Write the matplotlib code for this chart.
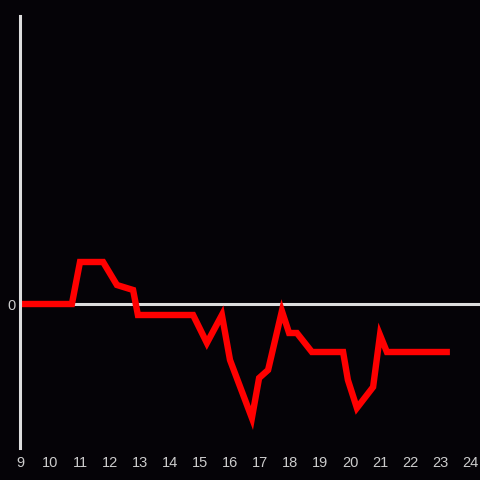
import matplotlib

matplotlib.use("Agg")
import matplotlib.pyplot as plt

BG = "#050307"
AXIS = "#dddddd"
LABEL = "#cccccc"
RED = "#ff0000"

# hours of the day and the value at each point
hours = [9.0, 10.73, 11.0, 11.77, 12.23, 12.77, 12.93, 14.77, 15.23, 15.73, 16.0,
         16.73, 16.97, 17.27, 17.73, 17.97, 18.23, 18.73, 19.77, 19.93, 20.23,
         20.77, 21.0, 21.23, 23.33]
values = [0.0, 0.0, 4.2, 4.2, 1.9, 1.4, -1.1, -1.1, -3.9, -1.1, -5.6,
          -11.4, -7.4, -6.6, -0.7, -2.9, -2.9, -4.8, -4.8, -7.6, -10.4,
          -8.3, -3.1, -4.8, -4.8]
xticks = list(range(9, 25))

fig = plt.figure(figsize=(4.8, 4.8), dpi=100)
fig.patch.set_facecolor(BG)
ax = fig.add_axes([20 / 480, 32 / 480, 460 / 480, 432 / 480])
ax.set_facecolor(BG)

ax.axhline(0, color=AXIS, lw=2.2, zorder=1)
ax.plot(hours, values, color=RED, lw=4.6, solid_joinstyle="miter",
        solid_capstyle="butt", zorder=2)

ax.set_xlim(9, 9 + 460 / 30)
ax.set_ylim(-14.4, 28.8)

for s in ("top", "right", "bottom"):
    ax.spines[s].set_visible(False)
ax.spines["left"].set_color(AXIS)
ax.spines["left"].set_linewidth(2.2)

ax.set_xticks(xticks)
ax.set_xticklabels([str(t) for t in xticks])
ax.set_yticks([0])
ax.set_yticklabels(["0"])
ax.tick_params(axis="both", length=0, colors=LABEL, labelsize=10.5)
ax.tick_params(axis="x", pad=6)
ax.tick_params(axis="y", pad=3)
for lab in ax.get_xticklabels() + ax.get_yticklabels():
    lab.set_fontfamily("Liberation Sans")

fig.savefig("out.png", dpi=100, facecolor=BG)
